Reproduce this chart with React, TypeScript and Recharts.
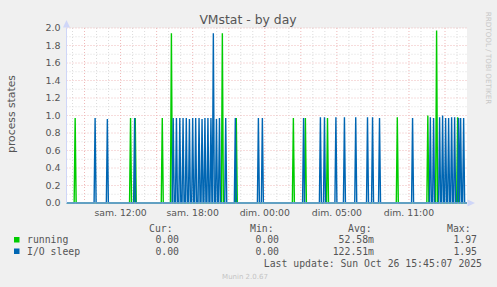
import { LineChart, Line, XAxis, YAxis, ReferenceLine } from "recharts";

// hours counted from sam. 00:00 (summer time), 5 min samples
const START = 7.5;
const END = 40.83;
const STEP = 1 / 12;

const runningTimes = [8.22, 12.83, 13.22, 15.47, 16.23, 20.47, 21.63, 26.38, 27.38, 29.22, 35.03, 37.57, 38.3, 40.05];
const runningValues = [0.97, 0.97, 0.97, 0.97, 1.94, 1.94, 0.97, 0.97, 0.97, 0.97, 0.98, 1.0, 1.97, 0.98];

const sleepTimes = [
  9.88, 10.9, 13.17, 16.38, 16.65, 16.93, 17.2, 17.47, 17.73, 18.0, 18.25, 18.53, 18.78, 19.02, 19.27, 19.52,
  19.72, 19.98, 20.23, 20.75, 21.55, 23.47, 23.8, 27.23, 28.63, 28.97, 29.92, 30.63, 31.57, 32.55, 32.97, 33.55,
  36.3, 37.78, 38.05, 38.55, 38.8, 39.05, 39.3, 39.55, 39.8, 40.13, 40.3, 40.55,
];
const sleepValues = [
  0.97, 0.96, 0.97, 0.97, 0.97, 0.97, 0.97, 0.97, 0.96, 0.97, 0.97, 0.97, 0.96, 0.97, 0.97, 0.97,
  1.94, 0.96, 0.97, 0.97, 0.97, 0.97, 0.97, 0.97, 0.98, 0.98, 0.98, 0.98, 0.98, 0.98, 0.98, 0.97,
  0.97, 0.98, 0.97, 0.98, 1.0, 0.97, 0.97, 0.98, 0.98, 0.97, 0.97, 0.97,
];

const xTicks = [12, 18, 24, 30, 36];
const xTickLabels = ["sam. 12:00", "sam. 18:00", "dim. 00:00", "dim. 05:00", "dim. 11:00"];
const yTicks = [0, 0.2, 0.4, 0.6, 0.8, 1.0, 1.2, 1.4, 1.6, 1.8, 2.0];

const legendNames = ["running", "I/O sleep"];
const legendColors = ["#00CC00", "#0066B3"];
const curValues = ["0.00", "0.00"];
const minValues = ["0.00", "0.00"];
const avgValues = ["52.58m", "122.51m"];
const maxValues = ["1.97", "1.95"];

const spikes = (times: number[], values: number[]) => {
  const pts = [{ t: START, v: 0 }];
  times.forEach((t, i) => {
    pts.push({ t: t - STEP, v: 0 }, { t, v: values[i] }, { t: t + STEP, v: 0 });
  });
  pts.push({ t: END, v: 0 });
  return pts;
};

const runningData = spikes(runningTimes, runningValues);
const sleepData = spikes(sleepTimes, sleepValues);

const hourLines: number[] = [];
for (let h = 8; h <= 40; h++) hourLines.push(h);
const valueLines: number[] = [];
for (let i = 1; i <= 20; i++) valueLines.push(i / 10);

const FONT = "DejaVu Sans";
const MONO = "DejaVu Sans Mono";
const TEXT = "#555555";
const MAJOR = "#efb8b8";
const MINOR = "#dcdcdc";

export default function App() {
  return (
    <div style={{ position: "relative", width: 497, height: 287, background: "#f0f0f0" }}>
      <style>{"body{margin:0;background:#f0f0f0}"}</style>
      <div style={{ position: "absolute", left: 66.5, top: 28, width: 400.5, height: 175, background: "#fff" }} />
      <LineChart
        width={497}
        height={287}
        margin={{ top: 28, right: 30, bottom: 0, left: 6.5 }}
        style={{ position: "absolute", left: 0, top: 0 }}
      >
        {hourLines.map((h) => (
          <ReferenceLine
            key={`h${h}`}
            x={h}
            stroke={h % 3 === 0 ? MAJOR : MINOR}
            strokeDasharray="1 2"
          />
        ))}
        {valueLines.map((v, i) => (
          <ReferenceLine
            key={`v${i}`}
            y={v}
            stroke={(i + 1) % 2 === 0 ? MAJOR : MINOR}
            strokeDasharray="1 2"
          />
        ))}
        <XAxis
          type="number"
          dataKey="t"
          domain={[START, END]}
          ticks={xTicks}
          tickFormatter={(t: number) => xTickLabels[xTicks.indexOf(t)]}
          tick={{ fill: TEXT, fontSize: 9.3, fontFamily: FONT }}
          tickLine={false}
          tickSize={0}
          tickMargin={6}
          axisLine={{ stroke: "#b4c0f0" }}
          height={84}
          allowDataOverflow
        />
        <YAxis
          type="number"
          domain={[0, 2]}
          ticks={yTicks}
          tickFormatter={(v: number) => v.toFixed(1)}
          tick={{ fill: TEXT, fontSize: 9.5, fontFamily: FONT }}
          tickLine={false}
          tickSize={0}
          tickMargin={6}
          axisLine={{ stroke: "#cfd6f8" }}
          width={60}
          interval={0}
        />
        <Line
          data={runningData}
          dataKey="v"
          type="linear"
          stroke="#00CC00"
          strokeWidth={1.4}
          dot={false}
          activeDot={false}
          isAnimationActive={false}
        />
        <Line
          data={sleepData}
          dataKey="v"
          type="linear"
          stroke="#0066B3"
          strokeWidth={1.4}
          dot={false}
          activeDot={false}
          isAnimationActive={false}
        />
      </LineChart>
      <svg
        width={497}
        height={287}
        style={{ position: "absolute", left: 0, top: 0, pointerEvents: "none" }}
      >
        <polygon points="66.5,20 63,27.5 70,27.5" fill="#cfd6f8" />
        <polygon points="475,203 467.5,199.5 467.5,206.5" fill="#cfd6f8" />
        <text x={248} y={24} textAnchor="middle" fontFamily={FONT} fontSize={12.4} fill={TEXT}>
          VMstat - by day
        </text>
        <text
          transform="translate(14.5,114) rotate(-90)"
          textAnchor="middle"
          fontFamily={FONT}
          fontSize={10.8}
          fill={TEXT}
        >
          process states
        </text>
        <text
          transform="translate(486,58) rotate(90)"
          textAnchor="middle"
          fontFamily={FONT}
          fontSize={7.2}
          fill="#c8c8c8"
        >
          RRDTOOL / TOBI OETIKER
        </text>
        <g fontFamily={MONO} fontSize={9.8} fill={TEXT}>
          <text x={149} y={231.5}>Cur:</text>
          <text x={250} y={231.5}>Min:</text>
          <text x={348} y={231.5}>Avg:</text>
          <text x={447} y={231.5}>Max:</text>
          {legendNames.map((name, i) => {
            const y = 243 + i * 11.5;
            return (
              <g key={name}>
                <rect x={14} y={y - 6} width={5.5} height={5.5} fill={legendColors[i]} />
                <text x={27} y={y}>{name}</text>
                <text x={179} y={y} textAnchor="end">{curValues[i]}</text>
                <text x={279} y={y} textAnchor="end">{minValues[i]}</text>
                <text x={374} y={y} textAnchor="end">{avgValues[i]}</text>
                <text x={477} y={y} textAnchor="end">{maxValues[i]}</text>
              </g>
            );
          })}
          <text x={482} y={266.8} textAnchor="end">Last update: Sun Oct 26 15:45:07 2025</text>
        </g>
        <text x={245} y={279} textAnchor="middle" fontFamily={FONT} fontSize={7} fill="#c4c4c4">
          Munin 2.0.67
        </text>
      </svg>
    </div>
  );
}
